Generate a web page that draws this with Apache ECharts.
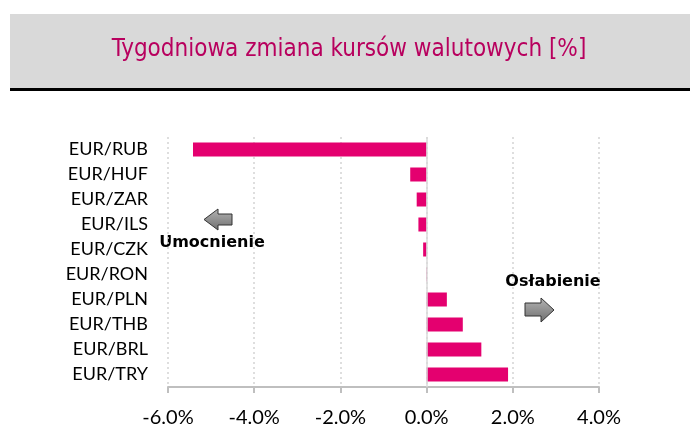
<!DOCTYPE html>
<html>
<head>
<meta charset="utf-8">
<script src="https://cdn.jsdelivr.net/npm/echarts@6/dist/echarts.min.js"></script>
<style>
  html, body { margin: 0; padding: 0; background: #fff; }
  #main { width: 700px; height: 441px; }
</style>
</head>
<body>
<div id="main"></div>
<script>
// tygodniowa zmiana kursow, % (odczyt z wykresu)
var pary = ['EUR/RUB', 'EUR/HUF', 'EUR/ZAR', 'EUR/ILS', 'EUR/CZK', 'EUR/RON', 'EUR/PLN', 'EUR/THB', 'EUR/BRL', 'EUR/TRY'];
var zmiany = [-5.42, -0.38, -0.23, -0.19, -0.08, 0.01, 0.47, 0.84, 1.27, 1.89];
var tytul = 'Tygodniowa zmiana kursów walutowych [%]';
var osMin = -6, osMax = 4, osKrok = 2;

var szaraStrzalka = new echarts.graphic.LinearGradient(0, 0, 0, 1, [
	{ offset: 0, color: '#b4b4b4' },
	{ offset: 1, color: '#6e6e6e' }
]);

var chart = echarts.init(document.getElementById('main'), null, { renderer: 'canvas' });
var option = {
	animation: false,
	backgroundColor: '#fff',
	grid: { left: 168, right: 101, top: 137, bottom: 54 },
	xAxis: {
		type: 'value',
		min: osMin,
		max: osMax,
		interval: osKrok,
		axisLine: { show: true, lineStyle: { color: '#bfbfbf', width: 2 } },
		axisTick: { show: true, length: 6, lineStyle: { color: '#bfbfbf', width: 2 } },
		axisLabel: {
			margin: 21,
			color: '#000',
			fontFamily: 'Lato',
			fontSize: 20,
			formatter: function(v) { return v.toFixed(1) + '%'; }
		},
		splitLine: { show: true, lineStyle: { color: '#d4d4d4', type: [2, 3], width: 1.5 } }
	},
	yAxis: {
		type: 'category',
		inverse: true,
		data: pary,
		axisLine: { show: false },
		axisTick: { show: false },
		axisLabel: { margin: 20, color: '#000', fontFamily: 'Lato', fontSize: 18 }
	},
	series: [{
		type: 'bar',
		data: zmiany,
		barWidth: 14,
		itemStyle: { color: '#e4006f' },
		markLine: {
			silent: true,
			symbol: 'none',
			label: { show: false },
			lineStyle: { color: '#dadada', type: 'solid', width: 1.5 },
			data: [{ xAxis: 0 }]
		}
	}],
	graphic: [
		{ type: 'rect', shape: { x: 10, y: 14, width: 680, height: 74 }, style: { fill: '#d9d9d9' } },
		{ type: 'rect', shape: { x: 10, y: 88, width: 680, height: 3 }, style: { fill: '#000' } },
		{
			type: 'text', x: 349, y: 50,
			style: { text: tytul, fill: '#b8005e', font: '24px "DejaVu Sans Condensed"', align: 'center', verticalAlign: 'middle' }
		},
		{
			type: 'text', x: 212, y: 243,
			style: { text: 'Umocnienie', fill: '#000', font: 'bold 16px "DejaVu Sans"', align: 'center', verticalAlign: 'middle' }
		},
		{
			type: 'text', x: 553, y: 282,
			style: { text: 'Osłabienie', fill: '#000', font: 'bold 16px "DejaVu Sans"', align: 'center', verticalAlign: 'middle' }
		},
		{
			type: 'polygon',
			shape: { points: [[204, 219.5], [218, 209], [218, 214], [232, 214], [232, 225], [218, 225], [218, 230]] },
			style: { fill: szaraStrzalka, stroke: '#333', lineWidth: 1 }
		},
		{
			type: 'polygon',
			shape: { points: [[525, 303], [541, 303], [541, 298], [554, 310], [541, 322], [541, 316], [525, 316]] },
			style: { fill: szaraStrzalka, stroke: '#333', lineWidth: 1 }
		}
	]
};
chart.setOption(option);
</script>
</body>
</html>
